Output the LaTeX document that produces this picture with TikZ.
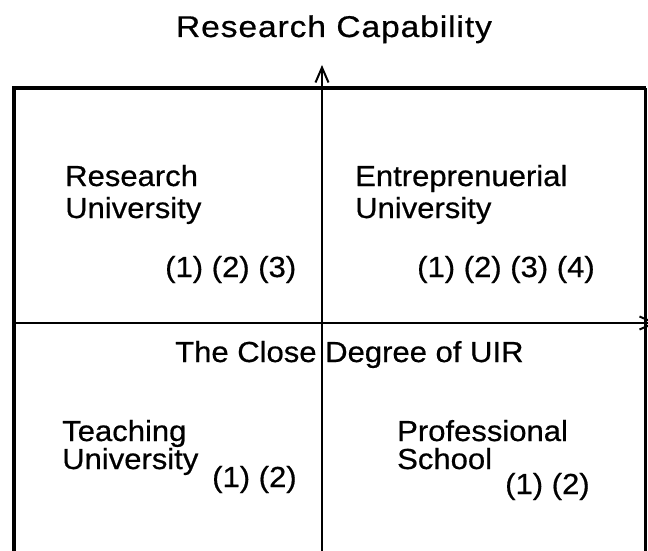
\documentclass[tikz,border=0pt]{standalone}
\usepackage{fontspec}
\usetikzlibrary{arrows.meta}
\newfontfamily\bodyfont[FakeStretch=1.07,FakeBold=0.6]{Liberation Sans}
\newfontfamily\titlefont[FakeStretch=1.12,LetterSpace=3,FakeBold=0.6]{Liberation Sans}
\tikzset{
  lbl/.style={anchor=base west, inner sep=0pt, font=\fontsize{29}{31}\selectfont\bodyfont},
  ttl/.style={anchor=base, inner sep=0pt, font=\fontsize{30}{32}\selectfont\titlefont},
  thickedge/.style={line width=4.5pt},
  thinedge/.style={line width=2.5pt},
  axis/.style={line width=2.2pt, -{Straight Barb[length=15pt,width=13pt,line width=2pt]}}
}
\begin{document}
\begin{tikzpicture}[x=1pt,y=-1pt]
\useasboundingbox (0,0) rectangle (648,551);
\clip (0,0) rectangle (648,551);
% frame
\coordinate (bl) at (14,570);
\coordinate (tl) at (14,88);
\coordinate (tr) at (645.5,88);
\coordinate (br) at (645.5,570);
\draw[thickedge] (bl) -- (tl) -- (tr);
\draw[thinedge] (tr) -- (br);
% axes
\coordinate (vs) at (322,570);
\coordinate (ve) at (322,65);
\coordinate (hs) at (14,323);
\coordinate (he) at (657,323);
\draw[axis] (vs) -- (ve);
\draw[axis] (hs) -- (he);
% labels
\node[ttl] (title) at (334,37) {Research Capability};
\node[lbl] (ru1) at (65,186) {Research};
\node[lbl] (ru2) at (65,218) {University};
\node[lbl] (ru3) at (165,277) {(1) (2) (3)};
\node[lbl] (eu1) at (355,186) {Entreprenuerial};
\node[lbl] (eu2) at (355,218) {University};
\node[lbl] (eu3) at (417,277) {(1) (2) (3) (4)};
\node[lbl] (xl) at (175,362) {The Close Degree of UIR};
\node[lbl] (tu1) at (62,441) {Teaching};
\node[lbl] (tu2) at (62,469) {University};
\node[lbl] (tu3) at (212,487) {(1) (2)};
\node[lbl] (ps1) at (397,441) {Professional};
\node[lbl] (ps2) at (397,469) {School};
\node[lbl] (ps3) at (505,494) {(1) (2)};
\end{tikzpicture}
\end{document}
